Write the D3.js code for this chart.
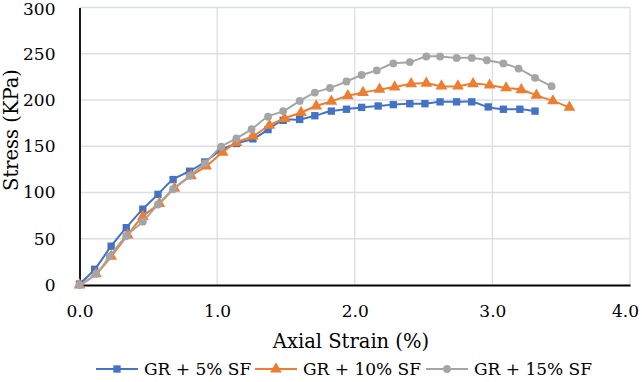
<html>
<head>
<script src="https://d3js.org/d3.v7.min.js"></script>
<style>
  body { margin: 0; background: #fff; }
  text { font-family: "DejaVu Serif", serif; fill: #000; }
</style>
</head>
<body>
<div id="chart"></div>
<script>
// values
var strain5 = [0, 0.11, 0.23, 0.34, 0.46, 0.57, 0.68, 0.80, 0.91, 1.03, 1.14, 1.26, 1.37, 1.48, 1.60,
               1.71, 1.83, 1.94, 2.05, 2.17, 2.28, 2.40, 2.51, 2.62, 2.74, 2.85, 2.97, 3.08, 3.20, 3.31];
var stress5 = [1, 17, 42, 62, 82, 98, 114, 123, 133, 146, 153, 158, 168, 178, 179,
               183, 188, 190, 192, 193.5, 195, 196, 196, 198, 198, 198, 192.5, 190, 190, 188];

var strain10 = [0, 0.12, 0.23, 0.35, 0.46, 0.58, 0.69, 0.81, 0.92, 1.04, 1.14, 1.26, 1.38, 1.49, 1.61, 1.72,
                1.83, 1.95, 2.06, 2.18, 2.29, 2.41, 2.52, 2.63, 2.75, 2.86, 2.98, 3.10, 3.21, 3.32, 3.44, 3.56];
var stress10 = [0, 12, 31, 54, 74, 88, 104.5, 118, 128.5, 143.5, 154, 161, 172.5, 180, 186.5, 193.5,
                198.5, 204.5, 208, 211.5, 214, 217.5, 218, 215, 215, 217.5, 216, 213, 211, 205, 199, 192];

var strain15 = [0, 0.12, 0.22, 0.34, 0.46, 0.57, 0.68, 0.80, 0.91, 1.03, 1.14, 1.25, 1.37, 1.48, 1.60, 1.71,
                1.82, 1.94, 2.05, 2.16, 2.28, 2.40, 2.52, 2.62, 2.74, 2.85, 2.96, 3.08, 3.19, 3.31, 3.43];
var stress15 = [0, 12, 31, 53, 68.5, 87, 103.5, 118, 131.5, 149.5, 158.5, 168.5, 182, 188, 199, 208,
                213, 220, 227, 232, 239.5, 241, 247, 247, 245.5, 245.5, 243, 239.5, 234, 224, 215];

var xTicks = [0, 1, 2, 3, 4];
var yTicks = [0, 50, 100, 150, 200, 250, 300];

var series = [
  { name: "GR + 5% SF", color: "#4472C4", shape: d3.symbolSquare, size: 54, x: strain5, y: stress5 },
  { name: "GR + 10% SF", color: "#ED7D31", shape: d3.symbolTriangle, size: 60, x: strain10, y: stress10 },
  { name: "GR + 15% SF", color: "#A5A5A5", shape: d3.symbolCircle, size: 48, x: strain15, y: stress15 }
];

var width = 642, height = 382;
var margin = { top: 7.5, right: 12, bottom: 97, left: 79.5 };

var svg = d3.select("#chart").append("svg")
  .attr("width", width)
  .attr("height", height);

var xScale = d3.scaleLinear().domain([0, 4]).range([margin.left, width - margin.right]);
var yScale = d3.scaleLinear().domain([0, 300]).range([height - margin.bottom, margin.top]);

// gridlines
svg.append("g").selectAll("line")
  .data(yTicks.slice(1))
  .enter().append("line")
  .attr("x1", margin.left).attr("x2", width - margin.right)
  .attr("y1", d => yScale(d)).attr("y2", d => yScale(d))
  .attr("stroke", "#dadee6").attr("stroke-width", 1.3);
svg.append("g").selectAll("line")
  .data(xTicks.slice(1))
  .enter().append("line")
  .attr("x1", d => xScale(d)).attr("x2", d => xScale(d))
  .attr("y1", margin.top).attr("y2", height - margin.bottom)
  .attr("stroke", "#dadee6").attr("stroke-width", 1.3);

// axes
var yAxis = d3.axisLeft(yScale).tickValues(yTicks).tickSize(0).tickPadding(24);
var gy = svg.append("g").attr("transform", `translate(${margin.left},0)`).call(yAxis);
gy.select(".domain").attr("stroke", "#000").attr("stroke-width", 1.8);
gy.selectAll("text").attr("font-size", 17).attr("font-family", "DejaVu Serif");
// keep the top label inside the picture
gy.selectAll(".tick text").filter(d => d === 300).attr("dy", "0.42em");

var xAxis = d3.axisBottom(xScale).tickValues(xTicks).tickSize(0).tickPadding(20)
  .tickFormat(d3.format(".1f"));
var gx = svg.append("g").attr("transform", `translate(0,${height - margin.bottom})`).call(xAxis);
gx.select(".domain").attr("stroke", "#000").attr("stroke-width", 1.8);
gx.selectAll("text").attr("font-size", 17).attr("font-family", "DejaVu Serif");
// last label sits at the right edge
gx.selectAll(".tick text").filter(d => d === 4).attr("dx", -5);

// titles
svg.append("text")
  .attr("x", 351).attr("y", 348)
  .attr("text-anchor", "middle")
  .attr("font-size", 19.5)
  .text("Axial Strain (%)");
svg.append("text")
  .attr("transform", "translate(18,130) rotate(-90)")
  .attr("text-anchor", "middle")
  .attr("font-size", 19.5)
  .text("Stress (KPa)");

// series
var line = d3.line()
  .x(d => xScale(d[0]))
  .y(d => yScale(d[1]))
  .curve(d3.curveCatmullRom.alpha(0.5));

series.forEach(function (s) {
  var pts = s.x.map((v, i) => [v, s.y[i]]);
  svg.append("path")
    .datum(pts)
    .attr("fill", "none")
    .attr("stroke", s.color)
    .attr("stroke-width", 2)
    .attr("d", line);
  svg.append("g").selectAll("path")
    .data(pts)
    .enter().append("path")
    .attr("transform", d => `translate(${xScale(d[0])},${yScale(d[1])})`)
    .attr("d", d3.symbol().type(s.shape).size(s.size))
    .attr("fill", s.color);
});

// legend
var legendX = [96, 255, 426];
var legend = svg.append("g");
series.forEach(function (s, i) {
  var g = legend.append("g").attr("transform", `translate(${legendX[i]},369)`);
  g.append("line")
    .attr("x1", 0).attr("x2", 42)
    .attr("stroke", s.color).attr("stroke-width", 2);
  g.append("path")
    .attr("transform", "translate(21,0)")
    .attr("d", d3.symbol().type(s.shape).size(s.size))
    .attr("fill", s.color);
  g.append("text")
    .attr("x", 48).attr("y", 0)
    .attr("dy", "0.35em")
    .attr("font-size", 17)
    .text(s.name);
});
</script>
</body>
</html>
